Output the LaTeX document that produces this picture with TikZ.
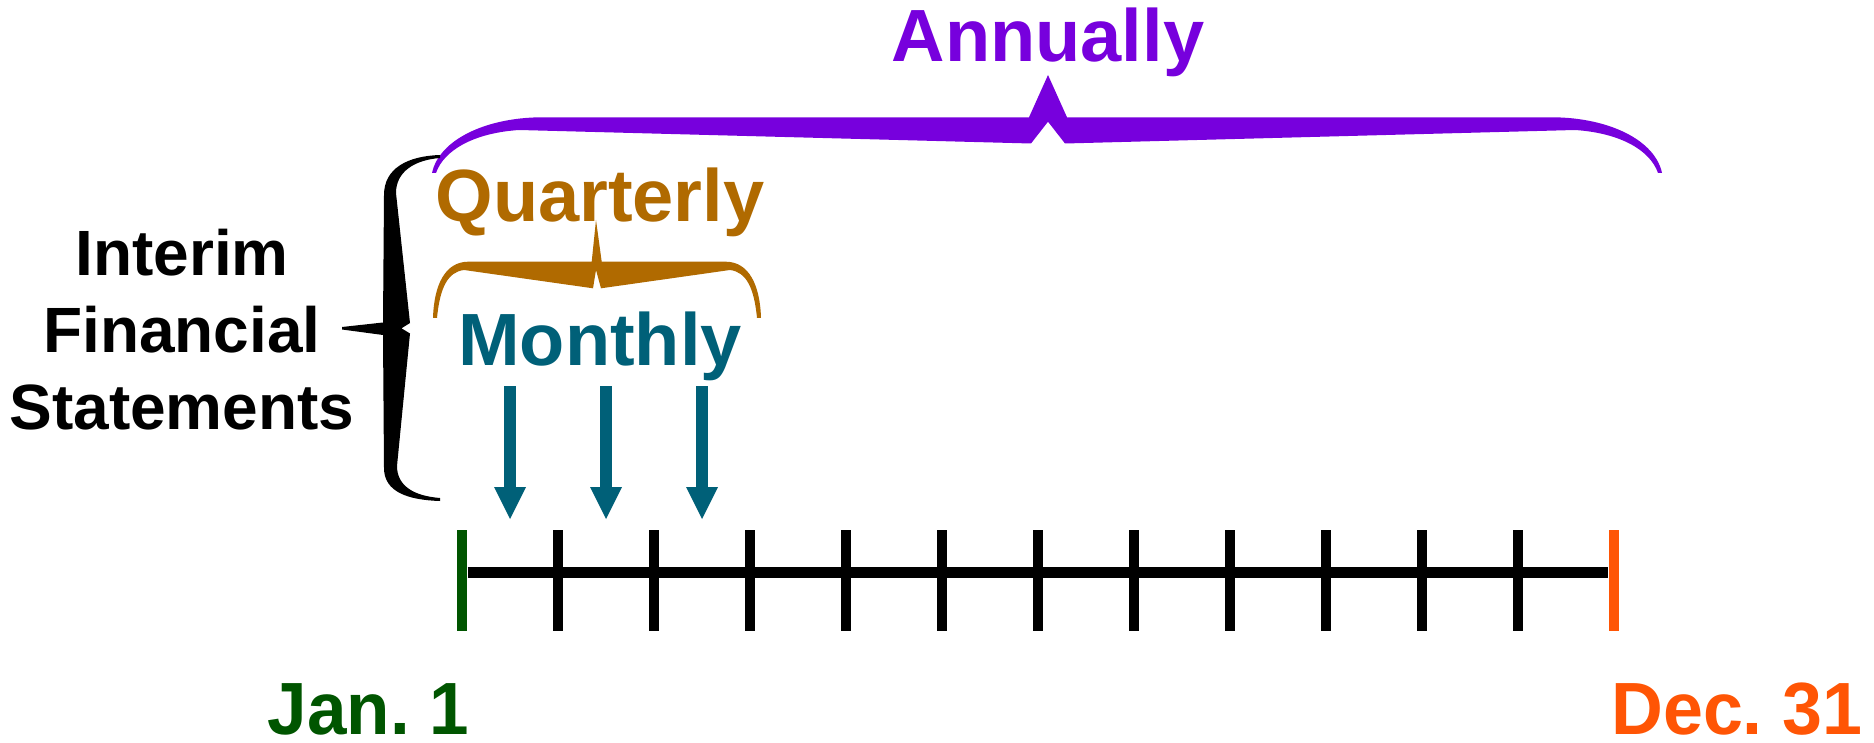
\documentclass[tikz,border=0pt]{standalone}
\usepackage{graphicx}
\usepackage{fontspec}
\setmainfont{Liberation Sans}
\usetikzlibrary{arrows.meta}
\definecolor{cpurple}{RGB}{119,0,221}
\definecolor{cgold}{RGB}{176,106,0}
\definecolor{cteal}{RGB}{0,96,120}
\definecolor{cgreen}{RGB}{0,85,0}
\definecolor{corange}{RGB}{255,85,5}
\tikzset{
  big/.style={inner sep=0pt, anchor=base, font=\fontsize{74}{80}\selectfont\bfseries},
  small/.style={inner sep=0pt, anchor=base, font=\fontsize{64}{70}\selectfont\bfseries},
  tick/.style={inner sep=0pt, minimum width=10.7pt, minimum height=101pt, fill=black, draw=none},
  axis/.style={line width=11pt, black},
  montharrow/.style={cteal, line width=11.3pt, -{Triangle[width=32pt,length=32pt,line width=0pt]}},
}
\begin{document}
\begin{tikzpicture}[x=1pt,y=-1pt]
\useasboundingbox[fill=white] (0,0) rectangle (1874,743);

% labels
\node[big, text=cpurple] (annually) at (1048,62) {Annually};
\node[big, text=cgold] (quarterly) at (600,222) {Quarterly};
\node[big, text=cteal] (monthly) at (600,365) {Monthly};
\node[small] (interim1) at (182,276) {Interim};
\node[small] (interim2) at (182,352.7) {Financial};
\node[small] (interim3) at (182,429) {Statements};
\node[big, text=cgreen] (jan) at (368.5,734) {\scalebox{0.96}[1]{Jan.\ 1}};
\node[big, text=corange] (dec) at (1737,734) {\scalebox{0.97}[1]{Dec.\ 31}};

% annual brace
\fill[cpurple] (432,173) .. controls (439,140) and (485,118) .. (540,117.3)
  -- (1029,117.3) -- (1048,75) -- (1067,117.3) -- (1554,117.3)
  .. controls (1609,118) and (1655,140) .. (1662,173)
  -- (1658,173) .. controls (1650,150) and (1620,133) .. (1575,130)
  -- (1065,143.5) -- (1048,121.7) -- (1031,143.5) -- (519,130)
  .. controls (474,133) and (444,150) .. (436,173) -- cycle;

% quarterly brace
\fill[cgold] (433,318) .. controls (434,285) and (445,262) .. (468,261.7)
  -- (591.7,261.7) -- (596,220) -- (601.7,261.7) -- (726,261.7)
  .. controls (749,262) and (760,285) .. (761,318)
  -- (757,318) .. controls (754,287) and (746,272) .. (730,270)
  -- (601,288.3) -- (596,270) -- (593,288.3) -- (464,270)
  .. controls (448,272) and (440,287) .. (437,318) -- cycle;

% interim brace
\fill[black] (440,155) .. controls (408,156) and (384,168) .. (384,195)
  -- (383,322.5) -- (342,327) -- (342,329.5) -- (383,335) -- (384,468)
  .. controls (384,492) and (408,500) .. (440,501)
  -- (440,498) .. controls (414,496) and (397,486) .. (397,466)
  -- (410,333.5) -- (401.5,328.3) -- (410,323) -- (396,193)
  .. controls (396,172) and (414,160) .. (440,158) -- cycle;

% timeline ticks
\node[tick, fill=cgreen] (t0) at (462,580.5) {};
\foreach \k in {1,...,11} {
  \node[tick] (t\k) at ({462+96*\k},580.5) {};
}
\node[tick, fill=corange] (t12) at (1614,580.5) {};
\draw[axis] ([yshift=7.7pt]t0.east) -- ([yshift=7.7pt]t12.west);

% monthly arrows
\coordinate (a1s) at (510,386);  \coordinate (a1e) at (510,519);
\coordinate (a2s) at (606,386);  \coordinate (a2e) at (606,519);
\coordinate (a3s) at (702,386);  \coordinate (a3e) at (702,519);
\draw[montharrow] (a1s) -- (a1e);
\draw[montharrow] (a2s) -- (a2e);
\draw[montharrow] (a3s) -- (a3e);
\end{tikzpicture}
\end{document}
